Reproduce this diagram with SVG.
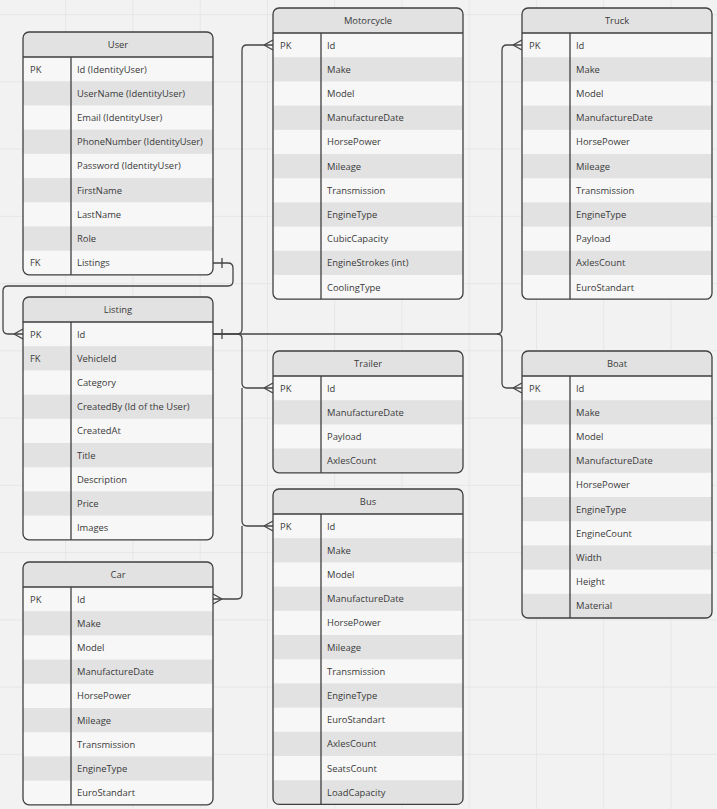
<svg xmlns="http://www.w3.org/2000/svg" width="717" height="809" viewBox="0 0 717 809">
<defs>
<pattern id="grid" patternUnits="userSpaceOnUse" x="65.2" y="14.1" width="67.25" height="67.25">
<path d="M0.5,0 V67.25 M0,0.5 H67.25" stroke="#e6e6e6" stroke-width="1" fill="none"/>
</pattern>
<style>
.bg{fill:#f7f7f7}
.hd,.dk{fill:#e2e2e2}
.ol{fill:none;stroke:#3f3f3f;stroke-width:1.3}
.ln{fill:none;stroke:#3f3f3f;stroke-width:1.3}
text{font-family:"Open Sans","Noto Sans","DejaVu Sans",sans-serif;font-size:9.4px;fill:#3a3a3a;dominant-baseline:central}
.t{text-anchor:middle}
.c{fill:none;stroke:#444;stroke-width:1.3;stroke-linejoin:round}
</style>
</defs>
<rect width="717" height="809" fill="#f2f2f2"/>
<rect width="717" height="809" fill="url(#grid)"/>

<g id="connectors">
<path class="c" d="M213,263 H228 Q233,263 233,268 V281 Q233,286 228,286 H8 Q3,286 3,291 V329 Q3,334 8,334 H23"/>
<path class="c" d="M222,258 V268"/>
<path class="c" d="M14,334 L23,329 M14,334 L23,339"/>
<path class="c" d="M213,334 H237 Q242,334 242,329 V50 Q242,45 247,45 H273"/>
<path class="c" d="M264,45 L273,40 M264,45 L273,50"/>
<path class="c" d="M213,334 H497 Q502,334 502,329 V50 Q502,45 507,45 H522"/>
<path class="c" d="M513,45 L522,40 M513,45 L522,50"/>
<path class="c" d="M497,334 Q502,334 502,339 V383 Q502,388 507,388 H522"/>
<path class="c" d="M513,388 L522,383 M513,388 L522,393"/>
<path class="c" d="M237,334 Q242,334 242,339 V383 Q242,388 247,388 H273"/>
<path class="c" d="M264,388 L273,383 M264,388 L273,393"/>
<path class="c" d="M242,388 V521 Q242,526 247,526 H273"/>
<path class="c" d="M264,526 L273,521 M264,526 L273,531"/>
<path class="c" d="M242,526 V594 Q242,599 237,599 H213"/>
<path class="c" d="M222,599 L213,594 M222,599 L213,604"/>
<path class="c" d="M222,329 V339"/>
</g>

<g id="User" transform="translate(23,32)">
<rect class="bg" width="190" height="242.8" rx="6"/>
<path class="hd" d="M0,25 V6 A6,6 0 0 1 6,0 H184 A6,6 0 0 1 190,6 V25 Z"/>
<rect class="dk" y="49.2" width="190" height="24.2"/>
<rect class="dk" y="97.6" width="190" height="24.2"/>
<rect class="dk" y="146" width="190" height="24.2"/>
<rect class="dk" y="194.4" width="190" height="24.2"/>
<rect class="ol" width="190" height="242.8" rx="6"/>
<path class="ln" d="M0,25 H190 M48,25 V242.8"/>
<text class="t" x="95" y="12">User</text>
<text x="7" y="37.1">PK</text><text x="54" y="37.1">Id (IdentityUser)</text>
<text x="54" y="61.3">UserName (IdentityUser)</text>
<text x="54" y="85.5">Email (IdentityUser)</text>
<text x="54" y="109.7">PhoneNumber (IdentityUser)</text>
<text x="54" y="133.9">Password (IdentityUser)</text>
<text x="54" y="158.1">FirstName</text>
<text x="54" y="182.3">LastName</text>
<text x="54" y="206.5">Role</text>
<text x="7" y="230.7">FK</text><text x="54" y="230.7">Listings</text>
</g>

<g id="Listing" transform="translate(23,297)">
<rect class="bg" width="190" height="242.8" rx="6"/>
<path class="hd" d="M0,25 V6 A6,6 0 0 1 6,0 H184 A6,6 0 0 1 190,6 V25 Z"/>
<rect class="dk" y="49.2" width="190" height="24.2"/>
<rect class="dk" y="97.6" width="190" height="24.2"/>
<rect class="dk" y="146" width="190" height="24.2"/>
<rect class="dk" y="194.4" width="190" height="24.2"/>
<rect class="ol" width="190" height="242.8" rx="6"/>
<path class="ln" d="M0,25 H190 M48,25 V242.8"/>
<text class="t" x="95" y="12">Listing</text>
<text x="7" y="37.1">PK</text><text x="54" y="37.1">Id</text>
<text x="7" y="61.3">FK</text><text x="54" y="61.3">VehicleId</text>
<text x="54" y="85.5">Category</text>
<text x="54" y="109.7">CreatedBy (Id of the User)</text>
<text x="54" y="133.9">CreatedAt</text>
<text x="54" y="158.1">Title</text>
<text x="54" y="182.3">Description</text>
<text x="54" y="206.5">Price</text>
<text x="54" y="230.7">Images</text>
</g>

<g id="Car" transform="translate(23,562)">
<rect class="bg" width="190" height="242.8" rx="6"/>
<path class="hd" d="M0,25 V6 A6,6 0 0 1 6,0 H184 A6,6 0 0 1 190,6 V25 Z"/>
<rect class="dk" y="49.2" width="190" height="24.2"/>
<rect class="dk" y="97.6" width="190" height="24.2"/>
<rect class="dk" y="146" width="190" height="24.2"/>
<rect class="dk" y="194.4" width="190" height="24.2"/>
<rect class="ol" width="190" height="242.8" rx="6"/>
<path class="ln" d="M0,25 H190 M48,25 V242.8"/>
<text class="t" x="95" y="12">Car</text>
<text x="7" y="37.1">PK</text><text x="54" y="37.1">Id</text>
<text x="54" y="61.3">Make</text>
<text x="54" y="85.5">Model</text>
<text x="54" y="109.7">ManufactureDate</text>
<text x="54" y="133.9">HorsePower</text>
<text x="54" y="158.1">Mileage</text>
<text x="54" y="182.3">Transmission</text>
<text x="54" y="206.5">EngineType</text>
<text x="54" y="230.7">EuroStandart</text>
</g>

<g id="Motorcycle" transform="translate(273,8)">
<rect class="bg" width="190" height="291.2" rx="6"/>
<path class="hd" d="M0,25 V6 A6,6 0 0 1 6,0 H184 A6,6 0 0 1 190,6 V25 Z"/>
<rect class="dk" y="49.2" width="190" height="24.2"/>
<rect class="dk" y="97.6" width="190" height="24.2"/>
<rect class="dk" y="146" width="190" height="24.2"/>
<rect class="dk" y="194.4" width="190" height="24.2"/>
<rect class="dk" y="242.8" width="190" height="24.2"/>
<rect class="ol" width="190" height="291.2" rx="6"/>
<path class="ln" d="M0,25 H190 M48,25 V291.2"/>
<text class="t" x="95" y="12">Motorcycle</text>
<text x="7" y="37.1">PK</text><text x="54" y="37.1">Id</text>
<text x="54" y="61.3">Make</text>
<text x="54" y="85.5">Model</text>
<text x="54" y="109.7">ManufactureDate</text>
<text x="54" y="133.9">HorsePower</text>
<text x="54" y="158.1">Mileage</text>
<text x="54" y="182.3">Transmission</text>
<text x="54" y="206.5">EngineType</text>
<text x="54" y="230.7">CubicCapacity</text>
<text x="54" y="254.9">EngineStrokes (int)</text>
<text x="54" y="279.1">CoolingType</text>
</g>

<g id="Truck" transform="translate(522,8)">
<rect class="bg" width="190" height="291.2" rx="6"/>
<path class="hd" d="M0,25 V6 A6,6 0 0 1 6,0 H184 A6,6 0 0 1 190,6 V25 Z"/>
<rect class="dk" y="49.2" width="190" height="24.2"/>
<rect class="dk" y="97.6" width="190" height="24.2"/>
<rect class="dk" y="146" width="190" height="24.2"/>
<rect class="dk" y="194.4" width="190" height="24.2"/>
<rect class="dk" y="242.8" width="190" height="24.2"/>
<rect class="ol" width="190" height="291.2" rx="6"/>
<path class="ln" d="M0,25 H190 M48,25 V291.2"/>
<text class="t" x="95" y="12">Truck</text>
<text x="7" y="37.1">PK</text><text x="54" y="37.1">Id</text>
<text x="54" y="61.3">Make</text>
<text x="54" y="85.5">Model</text>
<text x="54" y="109.7">ManufactureDate</text>
<text x="54" y="133.9">HorsePower</text>
<text x="54" y="158.1">Mileage</text>
<text x="54" y="182.3">Transmission</text>
<text x="54" y="206.5">EngineType</text>
<text x="54" y="230.7">Payload</text>
<text x="54" y="254.9">AxlesCount</text>
<text x="54" y="279.1">EuroStandart</text>
</g>

<g id="Trailer" transform="translate(273,351)">
<rect class="bg" width="190" height="121.8" rx="6"/>
<path class="hd" d="M0,25 V6 A6,6 0 0 1 6,0 H184 A6,6 0 0 1 190,6 V25 Z"/>
<rect class="dk" y="49.2" width="190" height="24.2"/>
<path class="dk" d="M0,97.6 H190 V115.8 A6,6 0 0 1 184,121.8 H6 A6,6 0 0 1 0,115.8 Z"/>
<rect class="ol" width="190" height="121.8" rx="6"/>
<path class="ln" d="M0,25 H190 M48,25 V121.8"/>
<text class="t" x="95" y="12">Trailer</text>
<text x="7" y="37.1">PK</text><text x="54" y="37.1">Id</text>
<text x="54" y="61.3">ManufactureDate</text>
<text x="54" y="85.5">Payload</text>
<text x="54" y="109.7">AxlesCount</text>
</g>

<g id="Bus" transform="translate(273,489)">
<rect class="bg" width="190" height="315.4" rx="6"/>
<path class="hd" d="M0,25 V6 A6,6 0 0 1 6,0 H184 A6,6 0 0 1 190,6 V25 Z"/>
<rect class="dk" y="49.2" width="190" height="24.2"/>
<rect class="dk" y="97.6" width="190" height="24.2"/>
<rect class="dk" y="146" width="190" height="24.2"/>
<rect class="dk" y="194.4" width="190" height="24.2"/>
<rect class="dk" y="242.8" width="190" height="24.2"/>
<path class="dk" d="M0,291.2 H190 V309.4 A6,6 0 0 1 184,315.4 H6 A6,6 0 0 1 0,309.4 Z"/>
<rect class="ol" width="190" height="315.4" rx="6"/>
<path class="ln" d="M0,25 H190 M48,25 V315.4"/>
<text class="t" x="95" y="12">Bus</text>
<text x="7" y="37.1">PK</text><text x="54" y="37.1">Id</text>
<text x="54" y="61.3">Make</text>
<text x="54" y="85.5">Model</text>
<text x="54" y="109.7">ManufactureDate</text>
<text x="54" y="133.9">HorsePower</text>
<text x="54" y="158.1">Mileage</text>
<text x="54" y="182.3">Transmission</text>
<text x="54" y="206.5">EngineType</text>
<text x="54" y="230.7">EuroStandart</text>
<text x="54" y="254.9">AxlesCount</text>
<text x="54" y="279.1">SeatsCount</text>
<text x="54" y="303.3">LoadCapacity</text>
</g>

<g id="Boat" transform="translate(522,351)">
<rect class="bg" width="190" height="267" rx="6"/>
<path class="hd" d="M0,25 V6 A6,6 0 0 1 6,0 H184 A6,6 0 0 1 190,6 V25 Z"/>
<rect class="dk" y="49.2" width="190" height="24.2"/>
<rect class="dk" y="97.6" width="190" height="24.2"/>
<rect class="dk" y="146" width="190" height="24.2"/>
<rect class="dk" y="194.4" width="190" height="24.2"/>
<path class="dk" d="M0,242.8 H190 V261 A6,6 0 0 1 184,267 H6 A6,6 0 0 1 0,261 Z"/>
<rect class="ol" width="190" height="267" rx="6"/>
<path class="ln" d="M0,25 H190 M48,25 V267"/>
<text class="t" x="95" y="12">Boat</text>
<text x="7" y="37.1">PK</text><text x="54" y="37.1">Id</text>
<text x="54" y="61.3">Make</text>
<text x="54" y="85.5">Model</text>
<text x="54" y="109.7">ManufactureDate</text>
<text x="54" y="133.9">HorsePower</text>
<text x="54" y="158.1">EngineType</text>
<text x="54" y="182.3">EngineCount</text>
<text x="54" y="206.5">Width</text>
<text x="54" y="230.7">Height</text>
<text x="54" y="254.9">Material</text>
</g>
</svg>
